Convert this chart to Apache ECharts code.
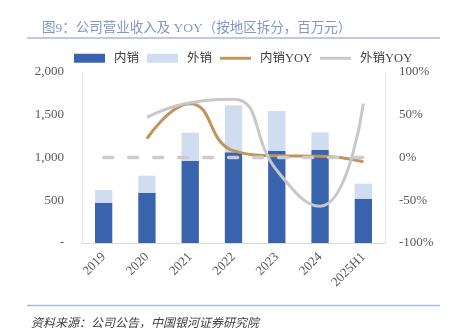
<!DOCTYPE html>
<html><head><meta charset="utf-8">
<script src="https://cdn.jsdelivr.net/npm/echarts@6/dist/echarts.min.js"></script>
<style>html,body{margin:0;padding:0;background:#fff}#c{width:449px;height:330px}</style>
</head><body><div id="c"></div>
<script>
var categories = ['2019','2020','2021','2022','2023','2024','2025H1'];
var domestic = [471, 588, 963, 1061, 1076, 1088, 518];
var overseas = [149, 199, 327, 549, 468, 206, 176];
var domesticYoy = [null, 22, 63, 8, 2, 1.5, -5];
var overseasYoy = [null, 47, 64, 68, -15, -57, 63];
var zeroLine = [0, 0, 0, 0, 0, 0, 0];
var titleText = '图9：公司营业收入及 YOY（按地区拆分，百万元）';
var sourceText = '资料来源：公司公告，中国银河证券研究院';

var serif = '"Liberation Serif","Noto Sans CJK SC",serif';
var lineIcon = 'path://M0,0 L0,0 M0,3 L32,3 L32,6 L0,6 Z M32,9 L32,9';
var chart = echarts.init(document.getElementById('c'), null, {renderer:'canvas'});
chart.setOption({
  animation: false,
  backgroundColor: '#fff',
  title: [{
    text: titleText, left: 37, top: 17,
    textStyle: {fontSize: 13.5, fontWeight: 'normal', color: '#8197c8', fontFamily: serif}
  },{
    text: sourceText, left: 26, top: 313,
    textStyle: {fontSize: 12, fontWeight: 'normal', fontStyle: 'italic', color: '#404040', fontFamily: serif}
  }],
  graphic: [
    {type:'line', shape:{x1:27,y1:38,x2:440,y2:38}, style:{stroke:'#a9b9dd', lineWidth:1.5}},
    {type:'line', shape:{x1:27,y1:305.5,x2:440,y2:305.5}, style:{stroke:'#a9b9dd', lineWidth:1.5}}
  ],
  legend: {
    left: 69, top: 47, itemWidth: 31, itemHeight: 9, itemGap: 8,
    textStyle: {fontSize: 12.5, color: '#404040', fontFamily: serif, padding:[0,0,0,4]},
    data: [
      {name:'内销', icon:'rect'},
      {name:'外销', icon:'rect'},
      {name:'内销YOY', icon: lineIcon},
      {name:'外销YOY', icon: lineIcon}
    ]
  },
  grid: {left: 82, right: 64, top: 72, bottom: 87},
  xAxis: {
    type: 'category', data: categories,
    axisLine: {lineStyle: {color: '#d9d9d9'}},
    axisTick: {show: false},
    axisLabel: {rotate: 45, margin: 12, fontSize: 13, color: '#595959', fontFamily: serif}
  },
  yAxis: [{
    type: 'value', min: 0, max: 2000, interval: 500,
    axisLine: {show: true, lineStyle: {color: '#e6e6e6'}},
    axisTick: {show: false}, splitLine: {show: false},
    axisLabel: {fontSize: 13, color: '#595959', fontFamily: serif, margin: 18,
      formatter: function(v){ return v === 0 ? '-' : v.toLocaleString('en-US'); }}
  },{
    type: 'value', min: -100, max: 100, interval: 50,
    axisLine: {show: true, lineStyle: {color: '#e6e6e6'}},
    axisTick: {show: false}, splitLine: {show: false},
    axisLabel: {fontSize: 13, color: '#595959', fontFamily: serif, margin: 14,
      formatter: function(v){ return v + '%'; }}
  }],
  series: [
    {name:'内销', type:'bar', stack:'s', data: domestic, barWidth:'40%',
      itemStyle:{color:'#3a63ad'}, z:2},
    {name:'外销', type:'bar', stack:'s', data: overseas,
      itemStyle:{color:'#d0ddf0'}, z:2},
    {name:'内销YOY', type:'line', yAxisIndex:1, data: domesticYoy, smooth:0.5,
      showSymbol:false, symbol:'none', lineStyle:{color:'#bf955d', width:3}, itemStyle:{color:'#bf955d'}, z:3},
    {name:'zero', type:'line', yAxisIndex:1, data: zeroLine, showSymbol:false, symbol:'none',
      lineStyle:{color:'#cccccc', width:3.5, type:[9,16], cap:'round'}, silent:true, z:4},
    {name:'外销YOY', type:'line', yAxisIndex:1, data: overseasYoy, smooth:0.5,
      showSymbol:false, symbol:'none', lineStyle:{color:'#c8c8c8', width:3}, itemStyle:{color:'#c8c8c8'}, z:5}
  ]
});
</script></body></html>
